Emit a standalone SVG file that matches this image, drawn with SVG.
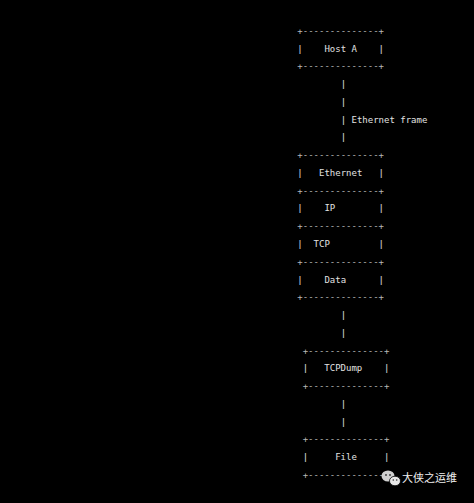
<svg xmlns="http://www.w3.org/2000/svg" width="474" height="503" viewBox="0 0 474 503">
<style>
.t{font-family:"DejaVu Sans Mono","Liberation Mono",monospace;font-size:9px;fill:#e2e2e2}
.b{font-family:"DejaVu Sans Mono","Liberation Mono",monospace;font-size:9px;fill:#b8b8b8}
.w{font-family:"Noto Sans CJK SC","Noto Sans",sans-serif;font-size:11px;fill:#f0f0f0}
</style>
<rect width="474" height="503" fill="#000"/>
<g id="host-a">
<text class="b" x="297.3" y="33.7">+--------------+</text>
<text class="t" x="297.3" y="51.5">|</text><text class="t" x="324.39" y="51.5">Host A</text><text class="t" x="378.57" y="51.5">|</text>
<text class="b" x="297.3" y="69.2">+--------------+</text>
</g>
<g id="connectors">
<text class="t" x="340.64" y="87.0">|</text>
<text class="t" x="340.64" y="104.8">|</text>
<text class="t" x="340.64" y="122.5">|</text><text class="t" x="351.48" y="122.5">Ethernet frame</text>
<text class="t" x="340.64" y="140.3">|</text>
<text class="t" x="340.64" y="318.0">|</text>
<text class="t" x="340.64" y="335.8">|</text>
<text class="t" x="340.64" y="406.9">|</text>
<text class="t" x="340.64" y="424.6">|</text>
</g>
<g id="ethernet">
<text class="b" x="297.3" y="158.1">+--------------+</text>
<text class="t" x="297.3" y="175.9">|</text><text class="t" x="318.97" y="175.9">Ethernet</text><text class="t" x="378.57" y="175.9">|</text>
<text class="b" x="297.3" y="193.6">+--------------+</text>
</g>
<g id="ip">
<text class="t" x="297.3" y="211.4">|</text><text class="t" x="324.39" y="211.4">IP</text><text class="t" x="378.57" y="211.4">|</text>
<text class="b" x="297.3" y="229.2">+--------------+</text>
</g>
<g id="tcp">
<text class="t" x="297.3" y="246.9">|</text><text class="t" x="313.55" y="246.9">TCP</text><text class="t" x="378.57" y="246.9">|</text>
<text class="b" x="297.3" y="264.7">+--------------+</text>
</g>
<g id="data">
<text class="t" x="297.3" y="282.5">|</text><text class="t" x="324.39" y="282.5">Data</text><text class="t" x="378.57" y="282.5">|</text>
<text class="b" x="297.3" y="300.3">+--------------+</text>
</g>
<g id="tcpdump">
<text class="b" x="302.7" y="353.6">+--------------+</text>
<text class="t" x="302.7" y="371.3">|</text><text class="t" x="324.37" y="371.3">TCPDump</text><text class="t" x="383.97" y="371.3">|</text>
<text class="b" x="302.7" y="389.1">+--------------+</text>
</g>
<g id="file">
<text class="b" x="302.7" y="442.4">+--------------+</text>
<text class="t" x="302.7" y="460.2">|</text><text class="t" x="335.21" y="460.2">File</text><text class="t" x="383.97" y="460.2">|</text>
<text class="b" x="302.7" y="478.0">+--------------+</text>
</g>
<g id="watermark">
<ellipse cx="388" cy="476" rx="6.5" ry="5.5" fill="#d0d0d0"/>
<ellipse cx="395" cy="481" rx="5.5" ry="4.8" fill="#e8e8e8" stroke="#000" stroke-width="0.8"/>
<circle cx="386" cy="475" r="0.9" fill="#333"/><circle cx="390" cy="475" r="0.9" fill="#333"/>
<circle cx="393.3" cy="480" r="0.8" fill="#333"/><circle cx="396.7" cy="480" r="0.8" fill="#333"/>
<text class="w" x="402" y="482">大侠之运维</text>
</g>
</svg>
